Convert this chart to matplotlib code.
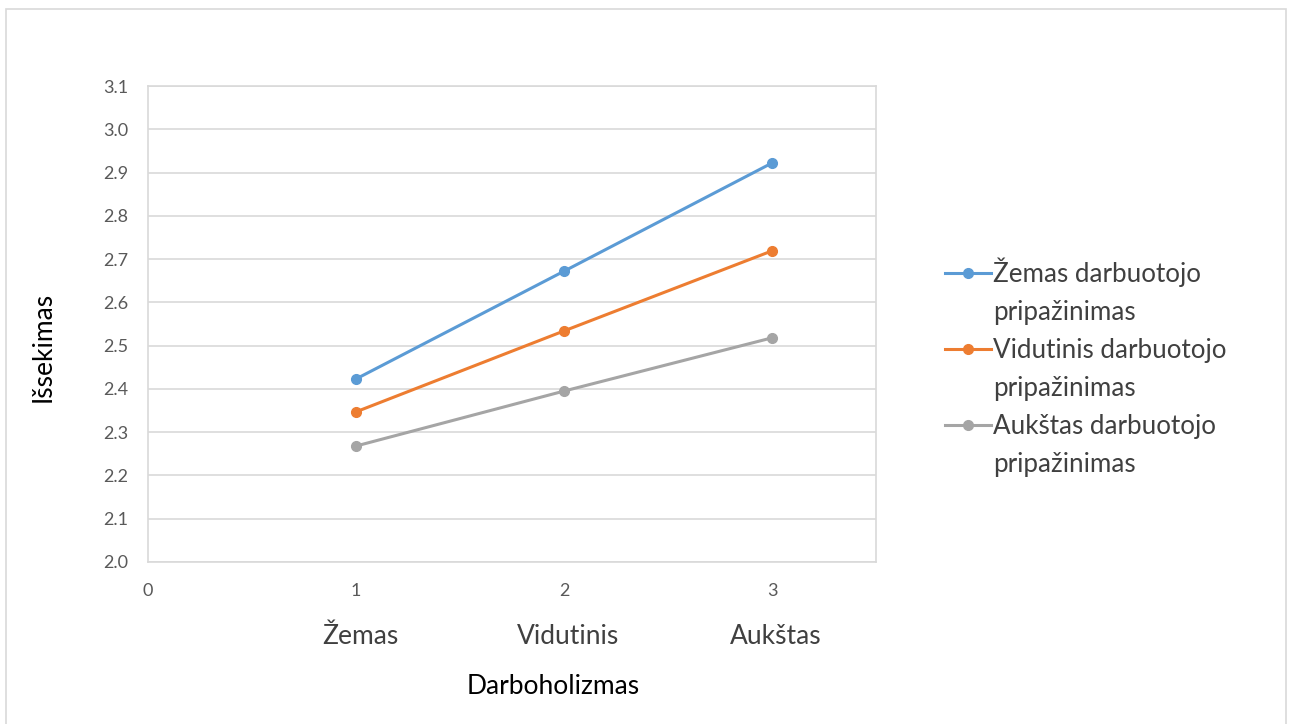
import matplotlib.pyplot as plt
import matplotlib.patches as patches
from matplotlib.lines import Line2D

plt.rcParams['font.family'] = ['Lato', 'DejaVu Sans']

# data
x = [1, 2, 3]
categories = ['Žemas', 'Vidutinis', 'Aukštas']
low_recog = [2.423, 2.672, 2.922]
mid_recog = [2.347, 2.534, 2.719]
high_recog = [2.268, 2.395, 2.518]
labels = ['Žemas darbuotojo', 'Vidutinis darbuotojo', 'Aukštas darbuotojo']
label_tail = 'pripažinimas'
colors = ['#5B9BD5', '#ED7D31', '#A5A5A5']

fig = plt.figure(figsize=(12.92, 7.24), dpi=100)
# outer chart border
fig.patches.append(patches.Rectangle((6/1292, -0.01), 1280/1292, 1 - 9/724 + 0.01,
                                     transform=fig.transFigure, fill=False,
                                     edgecolor='#D9D9D9', linewidth=1.2))

ax = fig.add_axes([148/1292, 1 - 562/724, 728/1292, 476/724])

handles = []
leg_labels = []
for ys, lab, c in zip([low_recog, mid_recog, high_recog], labels, colors):
    ln, = ax.plot(x, ys, color=c, linewidth=2.2, marker='o', markersize=7)
    handles += [ln, Line2D([], [], linestyle='none')]
    leg_labels += [lab, label_tail]

ax.set_xlim(0, 3.5)
ax.set_ylim(2.0, 3.1)
ax.set_xticks([0, 1, 2, 3])
ax.set_yticks([2.0 + 0.1 * i for i in range(12)])
ax.set_yticklabels(['%.1f' % (2.0 + 0.1 * i) for i in range(12)])
ax.yaxis.grid(True, color='#D9D9D9', linewidth=1.2)
ax.set_axisbelow(True)
for s in ax.spines.values():
    s.set_color('#D9D9D9')
    s.set_linewidth(1.2)
ax.tick_params(length=0, labelsize=13, labelcolor='#595959', pad=15)
ax.tick_params(axis='y', pad=14)

for xi, cat in zip(x, categories):
    ax.text(xi + 0.02, -0.156, cat, transform=ax.get_xaxis_transform(),
            ha='center', va='center', fontsize=19, color='#404040')

ax.set_xlabel('Darboholizmas', fontsize=19)
ax.xaxis.set_label_coords(0.556, -0.235)
ax.set_ylabel('Išsekimas', fontsize=19)
ax.yaxis.set_label_coords(-0.127, 0.452)

fig.legend(handles, leg_labels, loc='center left',
           bbox_to_anchor=(922/1292, 1 - 367/724),
           frameon=False, fontsize=18.7, handlelength=1.75, handletextpad=0.1,
           labelspacing=0.5, labelcolor='#404040')

fig.savefig('out.png', dpi=100)
